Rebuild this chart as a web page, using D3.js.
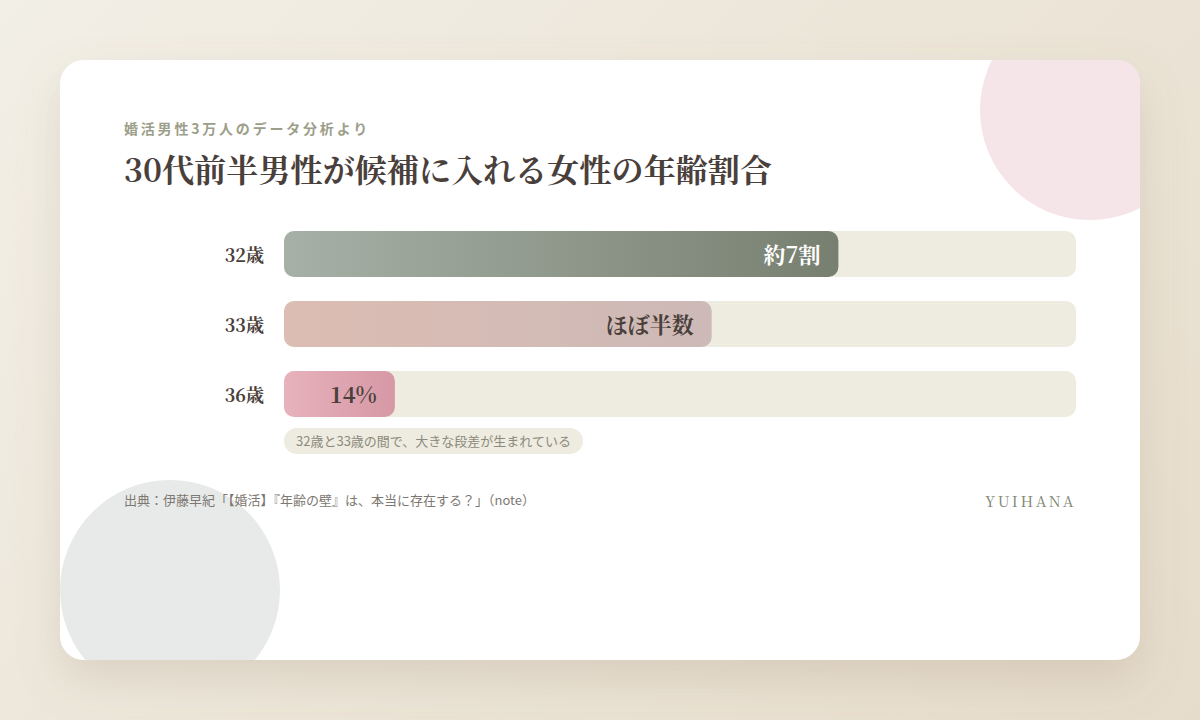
<!DOCTYPE html>
<html>
<head>
<meta charset="utf-8">
<script src="https://cdn.jsdelivr.net/npm/d3@7/dist/d3.min.js"></script>
<style>
  html, body { margin: 0; padding: 0; width: 1200px; height: 720px; overflow: hidden; }
  body { background: linear-gradient(135deg, #f2efe6 0%, #e6dccb 100%); }
  svg { display: block; }
  .sans { font-family: "Noto Sans CJK JP", "Noto Sans", sans-serif; }
  .serif { font-family: "Noto Serif CJK JP", "Noto Serif JP", "IPAMincho", "DejaVu Serif", serif; }
</style>
</head>
<body>
<svg id="chart" width="1200" height="720"></svg>
<script>
// ---- data ----
const categories = ["32歳", "33歳", "36歳"];
const values = [70, 54, 14];
const valueLabels = ["約7割", "ほぼ半数", "14%"];
const subtitle = "婚活男性3万人のデータ分析より";
const title = "30代前半男性が候補に入れる女性の年齢割合";
const note = "32歳と33歳の間で、大きな段差が生まれている";
const source = "出典：伊藤早紀「【婚活】『年齢の壁』は、本当に存在する？」（note）";
const brand = "YUIHANA";

const svg = d3.select("#chart");
const defs = svg.append("defs");

// shadow
const f = defs.append("filter").attr("id", "shadow").attr("x", "-20%").attr("y", "-20%").attr("width", "140%").attr("height", "150%");
f.append("feDropShadow").attr("dx", 0).attr("dy", 20).attr("stdDeviation", 22)
  .attr("flood-color", "#8a7558").attr("flood-opacity", 0.18);

// card clip
defs.append("clipPath").attr("id", "cardClip")
  .append("rect").attr("x", 60).attr("y", 60).attr("width", 1080).attr("height", 600).attr("rx", 24);

// gradients
const grads = [
  ["g0", "#a6b0a6", "#778070"],
  ["g1", "#dcbdb3", "#cdb9b7"],
  ["g2", "#e7b2bc", "#d698a5"]
];
grads.forEach(([id, a, b]) => {
  const g = defs.append("linearGradient").attr("id", id).attr("x1", "0%").attr("x2", "100%");
  g.append("stop").attr("offset", "0%").attr("stop-color", a);
  g.append("stop").attr("offset", "100%").attr("stop-color", b);
});

// card
svg.append("rect").attr("x", 60).attr("y", 60).attr("width", 1080).attr("height", 600).attr("rx", 24)
  .attr("fill", "#ffffff").attr("filter", "url(#shadow)");

const card = svg.append("g").attr("clip-path", "url(#cardClip)");
card.append("circle").attr("cx", 1090).attr("cy", 110).attr("r", 110).attr("fill", "#f5e4e8");
card.append("circle").attr("cx", 170).attr("cy", 590).attr("r", 110).attr("fill", "#e8eae9");

// headings
svg.append("text").attr("class", "sans").attr("x", 124).attr("y", 134)
  .attr("font-size", 14).attr("font-weight", 700).attr("letter-spacing", 2.8)
  .attr("fill", "#9c9e8a").text(subtitle);

svg.append("text").attr("class", "serif").attr("x", 124).attr("y", 182)
  .attr("font-size", 32).attr("font-weight", 700).attr("letter-spacing", 0.1)
  .attr("fill", "#4a403b").text(title);

// scales
const x = d3.scaleLinear().domain([0, 100]).range([284, 1076]);
const y = d3.scaleBand().domain(categories).range([231, 231 + 70 * 3 - 24]).paddingInner(24 / 70).paddingOuter(0);

const rows = svg.append("g").selectAll("g").data(categories).join("g");

rows.append("text").attr("class", "serif")
  .attr("x", 264).attr("y", d => y(d) + y.bandwidth() / 2)
  .attr("dy", "0.42em").attr("text-anchor", "end")
  .attr("font-size", 18).attr("font-weight", 700).attr("fill", "#4a403b")
  .text(d => d);

rows.append("rect").attr("x", x(0)).attr("y", d => y(d))
  .attr("width", x(100) - x(0)).attr("height", y.bandwidth()).attr("rx", 10)
  .attr("fill", "#eeebe0");

rows.append("rect").attr("x", x(0)).attr("y", d => y(d))
  .attr("width", (d, i) => x(values[i]) - x(0)).attr("height", y.bandwidth()).attr("rx", 10)
  .attr("fill", (d, i) => `url(#g${i})`);

rows.append("text").attr("class", "serif")
  .attr("x", (d, i) => x(values[i]) - 18).attr("y", d => y(d) + y.bandwidth() / 2)
  .attr("dy", "0.4em").attr("text-anchor", "end")
  .attr("font-size", 22).attr("font-weight", 700)
  .attr("fill", (d, i) => i === 0 ? "#ffffff" : "#4a403b")
  .text((d, i) => valueLabels[i]);

// note pill
const noteG = svg.append("g");
const noteText = noteG.append("text").attr("class", "sans").attr("x", 296).attr("y", 441)
  .attr("dy", "0.35em").attr("font-size", 13).attr("fill", "#8b8a7c").text(note);
const nw = noteText.node().getComputedTextLength();
noteG.insert("rect", "text").attr("x", 284).attr("y", 428).attr("width", nw + 24).attr("height", 26)
  .attr("rx", 13).attr("fill", "#eeebe0");

// footer
svg.append("text").attr("class", "sans").attr("x", 124).attr("y", 505)
  .attr("font-size", 13).attr("fill", "#7d7872").text(source);

svg.append("text").attr("class", "serif").attr("x", 1076).attr("y", 507)
  .attr("text-anchor", "end").attr("font-size", 15).attr("letter-spacing", 2.5)
  .attr("fill", "#7e8470").text(brand);
</script>
</body>
</html>
